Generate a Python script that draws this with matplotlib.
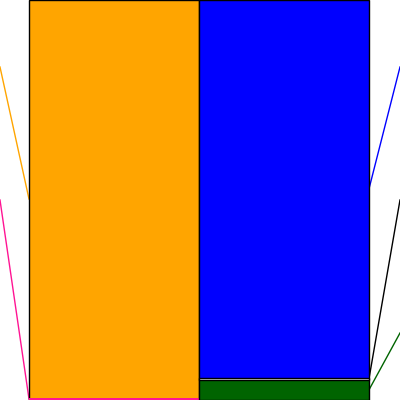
import matplotlib
matplotlib.use("Agg")
import matplotlib.pyplot as plt
from matplotlib.patches import Rectangle

# Left bar (assets) segments, top to bottom
left_names = ["Current assets", "Fixed assets"]
left_values = [99.5, 0.5]
left_colors = ["#ffa500", "#ff1493"]
left_label_y = [83.25, 50.0]

# Right bar segments, top to bottom
right_names = ["Current liabilities", "Fixed liabilities", "Net assets"]
right_values = [94.4, 0.5, 5.1]
right_colors = ["#0000ff", "#000000", "#006400"]
right_label_y = [83.25, 50.0, 16.75]

fig = plt.figure(figsize=(4, 4), dpi=100)
ax = fig.add_axes([0, 0, 1, 1])
xmin, xmax = -0.5 - 29 / 170, 1.5 + 31 / 170
ax.set_xlim(xmin, xmax)
ax.set_ylim(0, 100)
ax.axis("off")

def draw_stack(xpos, values, colors, label_ys, edge_x, target_x, base_z):
    top = sum(values)
    n = len(values)
    for i, (v, c, ly) in enumerate(zip(values, colors, label_ys)):
        bottom = top - v
        if c == "#000000":
            # very thin segment: drawn as outlined sliver
            ax.bar(xpos, v, bottom=bottom, width=1.0, color="white",
                   edgecolor="black", linewidth=1.0, zorder=base_z + 2)
        elif i == n - 1 and v < 1:
            ax.bar(xpos, v, bottom=bottom, width=1.0, color=c,
                   edgecolor="none", linewidth=0, zorder=base_z + 2)
        else:
            ax.bar(xpos, v, bottom=bottom, width=1.0, color=c,
                   edgecolor="none", linewidth=0, zorder=base_z)
        mid = bottom + v / 2
        ax.plot([edge_x, target_x], [mid, ly], color=c, linewidth=1.0,
                zorder=1, clip_on=False)
        top = bottom
    ax.add_patch(Rectangle((xpos - 0.5, 0), 1.0, sum(values), facecolor="none",
                           edgecolor="black", linewidth=1.0, zorder=base_z + 1))

draw_stack(0, left_values, left_colors, left_label_y, -0.5, xmin, 2)
draw_stack(1, right_values, right_colors, right_label_y, 1.5, xmax, 5)

fig.savefig("out.png", dpi=100)
